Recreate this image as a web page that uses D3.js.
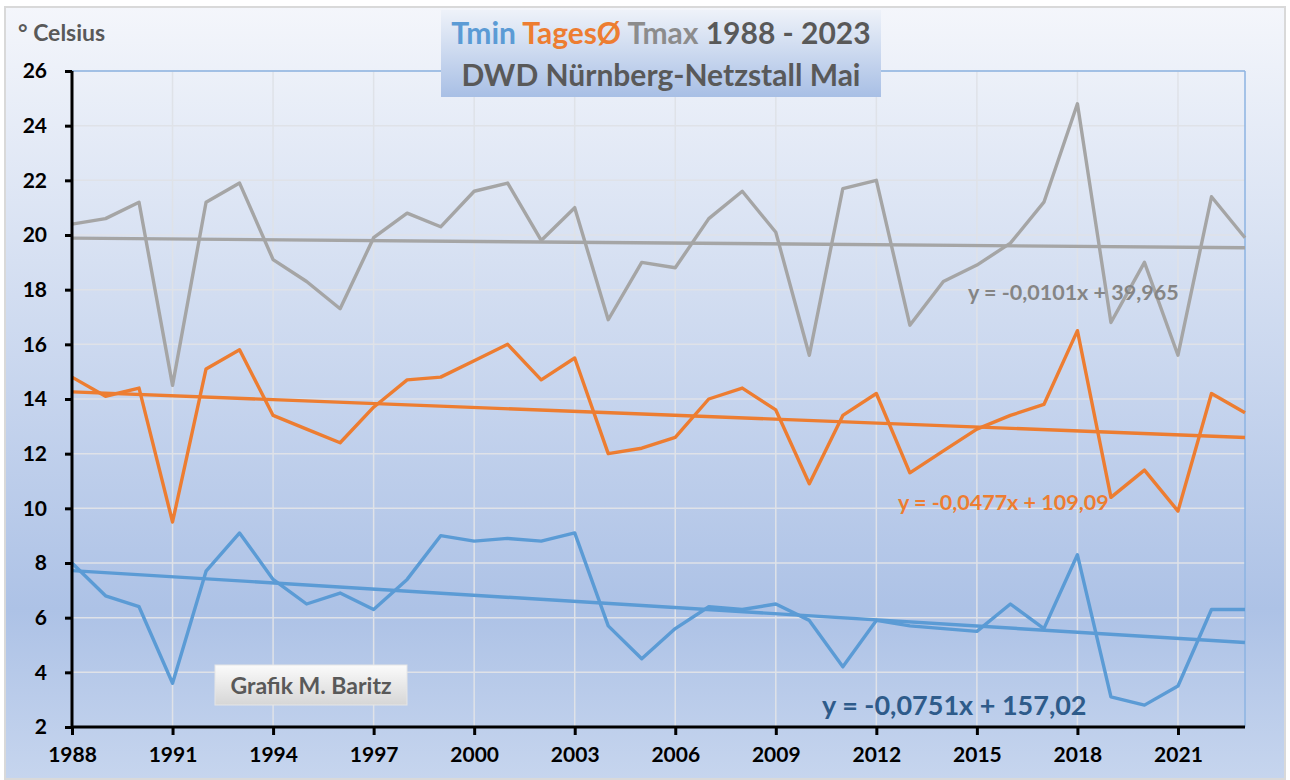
<!DOCTYPE html>
<html>
<head>
<meta charset="utf-8">
<script src="https://cdn.jsdelivr.net/npm/d3@7"></script>
<style>
  body { margin: 0; background: #fff; }
  text { font-family: Lato, "Open Sans", sans-serif; font-weight: bold; }
</style>
</head>
<body>
<div id="chart"></div>
<script>
  // Jahre und Werte (Mai, DWD Nürnberg-Netzstall)
  var years = d3.range(1988, 2024);
  var tmin = [8.0, 6.8, 6.4, 3.6, 7.7, 9.1, 7.4, 6.5, 6.9, 6.3, 7.4, 9.0, 8.8, 8.9, 8.8, 9.1, 5.7, 4.5,
              5.6, 6.4, 6.3, 6.5, 5.9, 4.2, 5.9, 5.7, 5.6, 5.5, 6.5, 5.6, 8.3, 3.1, 2.8, 3.5, 6.3, 6.3];
  var tmean = [14.8, 14.1, 14.4, 9.5, 15.1, 15.8, 13.4, 12.9, 12.4, 13.7, 14.7, 14.8, 15.4, 16.0, 14.7, 15.5, 12.0, 12.2,
               12.6, 14.0, 14.4, 13.6, 10.9, 13.4, 14.2, 11.3, 12.1, 12.9, 13.4, 13.8, 16.5, 10.4, 11.4, 9.9, 14.2, 13.5];
  var tmax = [20.4, 20.6, 21.2, 14.5, 21.2, 21.9, 19.1, 18.3, 17.3, 19.9, 20.8, 20.3, 21.6, 21.9, 19.8, 21.0, 16.9, 19.0,
              18.8, 20.6, 21.6, 20.1, 15.6, 21.7, 22.0, 16.7, 18.3, 18.9, 19.7, 21.2, 24.8, 16.8, 19.0, 15.6, 21.4, 19.9];
  // Trendlinien laut Gleichung (Steigung, Achsenabschnitt)
  var trendMin = [-0.0751, 157.02];
  var trendMean = [-0.0477, 109.09];
  var trendMax = [-0.0101, 39.965];
  var yTicks = d3.range(2, 27, 2);
  var xTicks = d3.range(1988, 2022, 3);

  var margin = {top: 71, right: 45, bottom: 53, left: 72},
      width = 1290 - margin.left - margin.right,
      height = 780 - margin.top - margin.bottom;

  var svg = d3.select("#chart").append("svg")
      .attr("width", 1290)
      .attr("height", 780);

  var defs = svg.append("defs");
  var bg = defs.append("linearGradient").attr("id", "bg").attr("x1", 0).attr("y1", 0).attr("x2", 0).attr("y2", 1);
  bg.append("stop").attr("offset", "0%").attr("stop-color", "#f4f6fb");
  bg.append("stop").attr("offset", "78%").attr("stop-color", "#adc2e6");
  bg.append("stop").attr("offset", "100%").attr("stop-color", "#c6d5ee");
  var tb = defs.append("linearGradient").attr("id", "tb").attr("x1", 0).attr("y1", 0).attr("x2", 0).attr("y2", 1);
  tb.append("stop").attr("offset", "0%").attr("stop-color", "#eef2f9");
  tb.append("stop").attr("offset", "100%").attr("stop-color", "#a8bfe5");
  var gb = defs.append("linearGradient").attr("id", "gb").attr("x1", 0).attr("y1", 0).attr("x2", 0).attr("y2", 1);
  gb.append("stop").attr("offset", "0%").attr("stop-color", "#fbfbfb");
  gb.append("stop").attr("offset", "100%").attr("stop-color", "#d6d6d6");

  // Hintergrund
  svg.append("rect")
    .attr("x", 5).attr("y", 7).attr("width", 1280).attr("height", 772)
    .attr("fill", "url(#bg)")
    .attr("stroke", "#d9d9d9").attr("stroke-width", 2);

  var g = svg.append("g")
    .attr("transform", "translate(" + margin.left + "," + margin.top + ")");

  var x = d3.scaleLinear().domain([1988, 2023]).range([0, width]);
  var y = d3.scaleLinear().domain([2, 26]).range([height, 0]);

  // Gitternetz
  g.append("g").selectAll("line.h")
    .data(yTicks).enter().append("line")
      .attr("x1", 0).attr("x2", width)
      .attr("y1", function(d) { return y(d); }).attr("y2", function(d) { return y(d); })
      .style("stroke", "#dfe2e8").style("stroke-width", 1.5);
  g.append("g").selectAll("line.v")
    .data(xTicks.slice(1)).enter().append("line")
      .attr("x1", function(d) { return x(d); }).attr("x2", function(d) { return x(d); })
      .attr("y1", 0).attr("y2", height)
      .style("stroke", "#dfe2e8").style("stroke-width", 1.5);

  // Rahmen oben / rechts
  g.append("line").attr("x1", 0).attr("x2", width).attr("y1", 0).attr("y2", 0)
    .style("stroke", "#8db3e2").style("stroke-width", 1.5);
  g.append("line").attr("x1", width).attr("x2", width).attr("y1", 0).attr("y2", height)
    .style("stroke", "#8db3e2").style("stroke-width", 1.5);

  // Linien
  var line = d3.line()
    .x(function(d, i) { return x(years[i]); })
    .y(function(d) { return y(d); });

  function trend(c) {
    return d3.line()([[x(1988), y(c[0] * 1988 + c[1])], [x(2023), y(c[0] * 2023 + c[1])]]);
  }

  var series = [
    {v: tmax, t: trendMax, c: "#a5a5a5"},
    {v: tmean, t: trendMean, c: "#ed7d31"},
    {v: tmin, t: trendMin, c: "#5b9bd5"}
  ];
  series.forEach(function(s) {
    g.append("path").attr("d", line(s.v))
      .style("fill", "none").style("stroke", s.c).style("stroke-width", 3.4)
      .style("stroke-linejoin", "round");
    g.append("path").attr("d", trend(s.t))
      .style("fill", "none").style("stroke", s.c).style("stroke-width", 3.4);
  });

  // Achsen
  var yAxis = g.append("g")
    .call(d3.axisLeft(y).tickValues(yTicks).tickSize(7).tickPadding(18));
  var xAxis = g.append("g")
    .attr("transform", "translate(0," + height + ")")
    .call(d3.axisBottom(x).tickValues(xTicks).tickSize(8).tickPadding(12).tickFormat(d3.format("d")));
  [yAxis, xAxis].forEach(function(a) {
    a.select(".domain").style("stroke", "#000").style("stroke-width", 3);
    a.selectAll(".tick line").style("stroke", "#000").style("stroke-width", 3);
    a.selectAll("text").style("font-size", "21px").style("fill", "#000")
      .style("font-family", "Lato, sans-serif").style("font-weight", "bold");
  });
  xAxis.select(".domain").attr("d", "M0,0H" + width);
  yAxis.select(".domain").attr("d", "M0,0V" + height);

  // Titel
  svg.append("rect").attr("x", 441).attr("y", 10).attr("width", 440).attr("height", 87)
    .attr("fill", "url(#tb)");
  var t1 = svg.append("text").attr("x", 661).attr("y", 44)
    .attr("text-anchor", "middle").style("font-size", "30px");
  t1.append("tspan").text("Tmin ").style("fill", "#5b9bd5");
  t1.append("tspan").text("TagesØ ").style("fill", "#ed7d31");
  t1.append("tspan").text("Tmax ").style("fill", "#8c8c8c");
  t1.append("tspan").text("1988 - 2023").style("fill", "#595959");
  svg.append("text").attr("x", 661).attr("y", 86)
    .attr("text-anchor", "middle").style("font-size", "30px").style("fill", "#595959")
    .text("DWD Nürnberg-Netzstall Mai");

  svg.append("text").attr("x", 18).attr("y", 41)
    .style("font-size", "23px").style("fill", "#595959").text("° Celsius");

  // Gleichungen
  svg.append("text").attr("x", 968).attr("y", 300)
    .style("font-size", "21.5px").style("fill", "#858585").text("y = -0,0101x + 39,965");
  svg.append("text").attr("x", 898).attr("y", 510)
    .style("font-size", "21.5px").style("fill", "#ed7d31").text("y = -0,0477x + 109,09");
  svg.append("text").attr("x", 822).attr("y", 715)
    .style("font-size", "27px").style("fill", "#2e5b8a").text("y = -0,0751x + 157,02");

  // Autor
  svg.append("rect").attr("x", 215).attr("y", 665).attr("width", 192).attr("height", 40)
    .attr("fill", "url(#gb)").attr("stroke", "#e6e6e6");
  svg.append("text").attr("x", 311).attr("y", 694).attr("text-anchor", "middle")
    .style("font-size", "23px").style("fill", "#595959").text("Grafik M. Baritz");
</script>
</body>
</html>
